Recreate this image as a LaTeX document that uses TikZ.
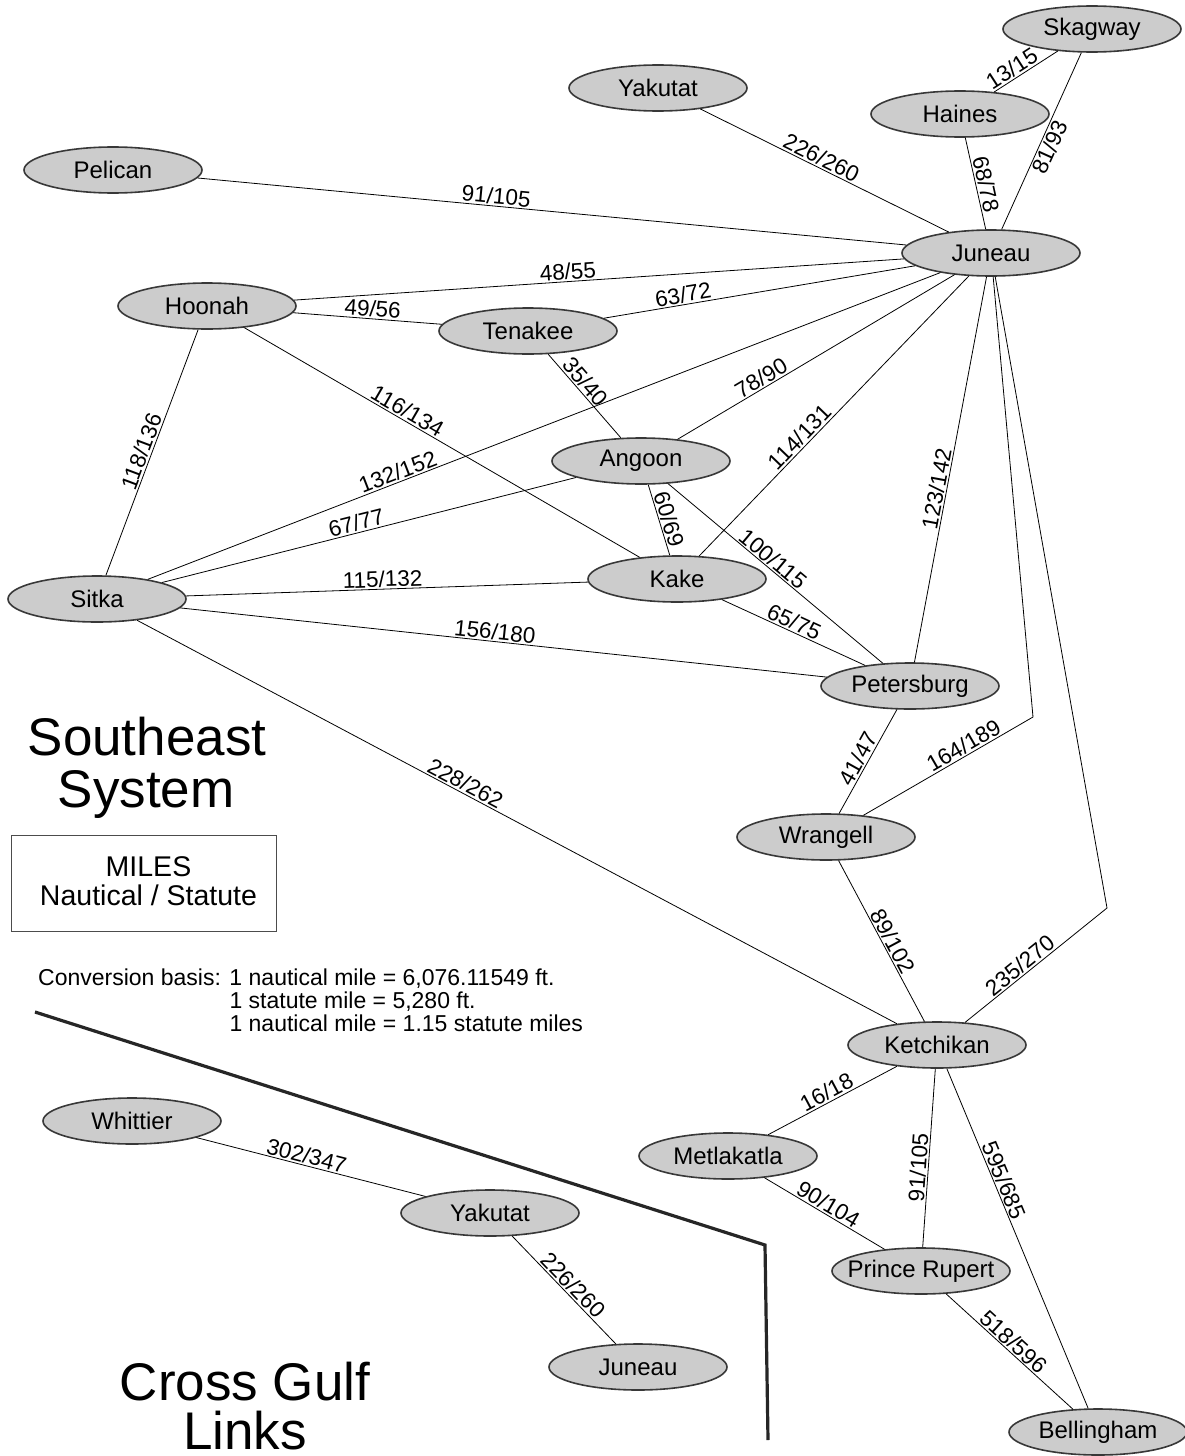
\documentclass[tikz,border=0pt]{standalone}
\usepackage{fontspec}
\setmainfont{Liberation Sans}
\usetikzlibrary{shapes.geometric}
\begin{document}
\begin{tikzpicture}[x=1pt,y=-1pt,
  port/.style={ellipse, draw=black!78, line width=1.6pt, fill=black!20,
    minimum width=178pt, minimum height=46pt, inner sep=0pt,
    font=\fontsize{24}{28}\selectfont},
  route/.style={draw=black, line width=0.8pt},
  dist/.style={sloped, font=\fontsize{22.5}{25}\selectfont, inner sep=1.5pt},
  bigtitle/.style={anchor=base, inner sep=0pt, font=\fontsize{53}{56}\selectfont},
]
\useasboundingbox (0,0) rectangle (1185,1456);

% ---------- Southeast system ports
\node[port] (skag)    at (1092,29)  {Skagway};
\node[port] (yak)     at (658,88)   {Yakutat};
\node[port] (haines)  at (960,114)  {Haines};
\node[port] (pelican) at (113,170)  {Pelican};
\node[port] (juneau)  at (991,253)  {Juneau};
\node[port] (hoonah)  at (207,306)  {Hoonah};
\node[port] (tenakee) at (528,331)  {Tenakee};
\node[port] (angoon)  at (641,461)  {Angoon};
\node[port] (sitka)   at (97,599)   {Sitka};
\node[port] (kake)    at (677,579)  {Kake};
\node[port] (peters)  at (910,686)  {Petersburg};
\node[port] (wrangell) at (826,837) {Wrangell};
\node[port] (ketch)   at (937,1045) {Ketchikan};
\node[port] (metla)   at (728,1156) {Metlakatla};
\node[port] (rupert)  at (921,1271) {\makebox[0pt]{Prince Rupert}};
\node[port] (belling) at (1098,1432) {Bellingham};

% ---------- Cross Gulf ports
\node[port] (whittier) at (132,1121) {Whittier};
\node[port] (yakb)     at (490,1213) {Yakutat};
\node[port] (juneaub)  at (638,1367) {Juneau};

\coordinate (bendW) at (1033,717);
\coordinate (bendK) at (1107,908);

% ---------- routes
\draw[route] (haines) -- node[dist,above,pos=0.36]{13/15} (skag);
\draw[route] (skag) -- node[dist,below,pos=0.51]{81/93} (juneau);
\draw[route] (haines) -- node[dist,above,pos=0.53]{68/78} (juneau);
\draw[route] (yak) -- node[dist,above,pos=0.47]{226/260} (juneau);
\draw[route] (pelican) -- node[dist,above,pos=0.42]{91/105} (juneau);
\draw[route] (hoonah) -- node[dist,above,pos=0.45]{48/55} (juneau);
\draw[route] (hoonah) -- node[dist,above,pos=0.53]{49/56} (tenakee);
\draw[route] (tenakee) -- node[dist,above,pos=0.26]{63/72} (juneau);
\draw[route] (tenakee) -- node[dist,above,pos=0.41]{35/40} (angoon);
\draw[route] (angoon) -- node[dist,above,pos=0.32]{78/90} (juneau);
\draw[route] (sitka) -- node[dist,above,pos=0.32]{132/152} (juneau);
\draw[route] (kake) -- node[dist,above,pos=0.40]{114/131} (juneau);
\draw[route] (peters) -- node[dist,above,pos=0.445]{123/142} (juneau);
\draw[route] (juneau) -- (bendW) -- node[dist,above,pos=0.38]{164/189} (wrangell);
\draw[route] (juneau) -- (bendK) -- node[dist,above,pos=0.57]{235/270} (ketch);
\draw[route] (hoonah) -- node[dist,above,pos=0.51]{118/136} (sitka);
\draw[route] (hoonah) -- node[dist,above,pos=0.40]{116/134} (kake);
\draw[route] (sitka) -- node[dist,above,pos=0.475]{67/77} (angoon);
\draw[route] (sitka) -- node[dist,above,pos=0.49]{115/132} (kake);
\draw[route] (sitka) -- node[dist,above,pos=0.485]{156/180} (peters);
\draw[route] (sitka) -- node[dist,above,pos=0.426]{228/262} (ketch);
\draw[route] (angoon) -- node[dist,above,pos=0.53]{60/69} (kake);
\draw[route] (angoon) -- node[dist,above,pos=0.46]{100/115} (peters);
\draw[route] (kake) -- node[dist,above,pos=0.476]{65/75} (peters);
\draw[route] (peters) -- node[dist,above,pos=0.52]{41/47} (wrangell);
\draw[route] (wrangell) -- node[dist,above,pos=0.53]{89/102} (ketch);
\draw[route] (ketch) -- node[dist,above,pos=0.51]{16/18} (metla);
\draw[route] (ketch) -- node[dist,above,pos=0.556]{91/105} (rupert);
\draw[route] (ketch) -- node[dist,above,pos=0.34]{595/685} (belling);
\draw[route] (metla) -- node[dist,above,pos=0.49]{90/104} (rupert);
\draw[route] (rupert) -- node[dist,above,pos=0.48]{518/596} (belling);
\draw[route] (whittier) -- node[dist,above,pos=0.47]{302/347} (yakb);
\draw[route] (yakb) -- node[dist,above,pos=0.52]{226/260} (juneaub);

% ---------- titles and legend
\node[bigtitle] (t1) at (147,755) {Southeast};
\node[bigtitle] (t2) at (146,807) {System};
\node[bigtitle] (t3) at (245,1400) {Cross Gulf};
\node[bigtitle] (t4) at (245,1449) {Links};

\node[draw=black!70, line width=0.8pt, minimum width=265pt, minimum height=96pt,
      inner sep=0pt] (legendbox) at (143.5,883) {};
\node[align=center, font=\fontsize{28.5}{29.5}\selectfont] (legendtext) at (148.5,881)
  {MILES\\Nautical / Statute};

\node[anchor=base west, inner sep=0pt, font=\fontsize{23}{22.5}\selectfont] (conv) at (38,985)
  {\begin{tabular}[t]{@{}l@{ }l@{}}Conversion basis: & 1 nautical mile = 6,076.11549 ft.\\
   & 1 statute mile = 5,280 ft.\\
   & 1 nautical mile = 1.15 statute miles\end{tabular}};

% ---------- divider
\draw[line width=3.2pt, black!85, line join=miter] (35,1012) -- (765,1245) -- (768,1440);
\end{tikzpicture}
\end{document}
